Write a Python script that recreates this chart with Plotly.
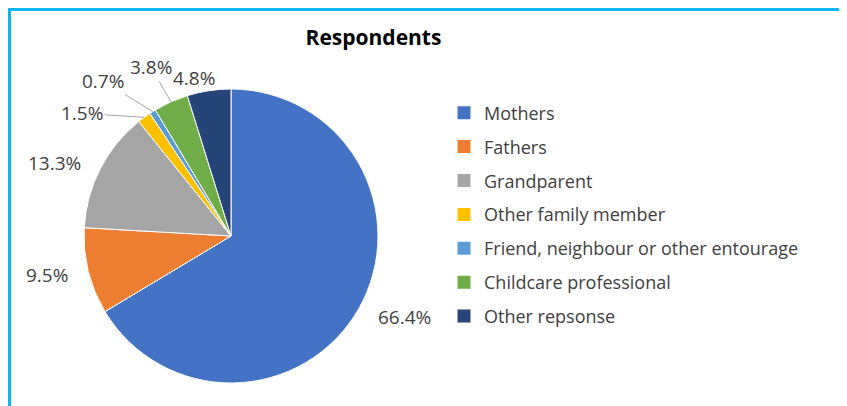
import math
import plotly.graph_objects as go

labels = ["Mothers", "Fathers", "Grandparent", "Other family member",
          "Friend, neighbour or other entourage", "Childcare professional",
          "Other repsonse"]
values = [66.4, 9.5, 13.3, 1.5, 0.7, 3.8, 4.8]
colors = ["#4472C4", "#ED7D31", "#A5A5A5", "#FFC000", "#5B9BD5", "#70AD47", "#264478"]

# ---- styling / layout constants (figure pixels) ----
W, H = 839, 398
FONT = "Open Sans"
TXT = "#404040"
BORDER = "#10B4F0"
CX, CY, R = 223, 228, 147          # pie centre and radius in figure pixels
# offset (px) of each percentage label from the edge of its slice, and leader flag
LABEL_DX = [46, -41, -46, -62, -50, -20, -15]
LABEL_DY = [9, 4, -6, -4, -31, -35, -13]
LEADER = [False, False, False, True, True, True, False]

fig = go.Figure()
fig.add_trace(go.Pie(
    labels=labels, values=values, sort=False, direction="clockwise", rotation=0,
    marker=dict(colors=colors, line=dict(color="white", width=1)),
    textinfo="none", showlegend=False, hoverinfo="label+value",
    domain=dict(x=[(CX - R) / W, (CX + R) / W],
                y=[(H - CY - R) / H, (H - CY + R) / H]),
))

# legend entries (same labels / colours as the slices)
for lab, col in zip(labels, colors):
    fig.add_trace(go.Scatter(
        x=[None], y=[None], mode="markers", name=lab, legendgroup=lab,
        marker=dict(symbol="square", size=13, color=col),
        hoverinfo="skip",
    ))

# percentage labels anchored on each slice's mid-angle
total = sum(values)
annotations = []
cum = 0.0
for i, v in enumerate(values):
    mid = (cum + v / 2) / total * 2 * math.pi
    cum += v
    ex = CX + R * math.sin(mid)
    ey = CY - R * math.cos(mid)
    annotations.append(dict(
        x=ex / W, y=1 - ey / H, xref="paper", yref="paper",
        text=f"{v:.1f}%", showarrow=True, arrowhead=0, standoff=0,
        arrowwidth=1,
        arrowcolor="#A6A6A6" if LEADER[i] else "rgba(0,0,0,0)",
        ax=LABEL_DX[i], ay=LABEL_DY[i],
        font=dict(family=FONT, size=19, color=TXT),
    ))

fig.update_layout(
    width=W, height=H,
    margin=dict(l=0, r=0, t=0, b=0),
    paper_bgcolor="white", plot_bgcolor="white",
    xaxis=dict(visible=False), yaxis=dict(visible=False),
    title=dict(text="<b>Respondents</b>", x=365.5 / W, xanchor="center",
               y=1 - 30 / H, yanchor="middle",
               font=dict(family=FONT, size=21, color="black")),
    legend=dict(x=436 / W, y=1 - 86.5 / H, xanchor="left", yanchor="top",
                font=dict(family=FONT, size=18, color=TXT),
                tracegroupgap=7.5, bgcolor="rgba(0,0,0,0)"),
    annotations=annotations,
    shapes=[
        dict(type="line", xref="paper", yref="paper",
             x0=0, x1=1, y0=1 - 1.5 / H, y1=1 - 1.5 / H,
             line=dict(color=BORDER, width=3), layer="above"),
        dict(type="line", xref="paper", yref="paper",
             x0=1.5 / W, x1=1.5 / W, y0=0, y1=1,
             line=dict(color=BORDER, width=3), layer="above"),
    ],
)

fig.write_html("out.html")
